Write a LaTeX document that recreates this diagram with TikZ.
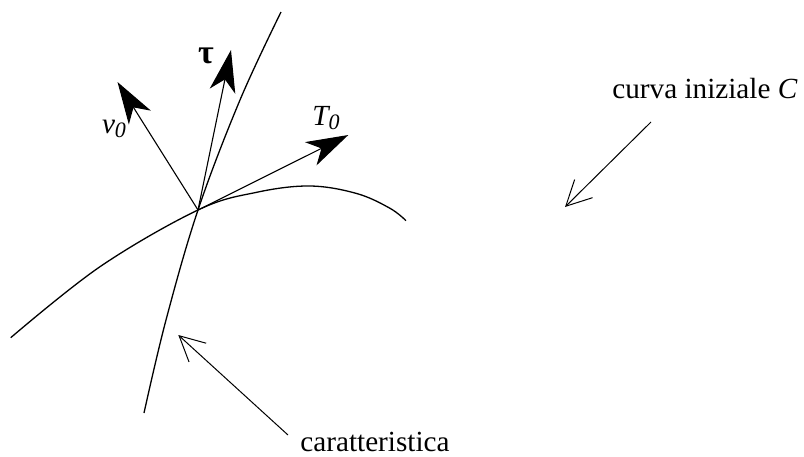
\documentclass[tikz,border=0pt]{standalone}
\usepackage{fontspec}
\setmainfont{Liberation Serif}
\usetikzlibrary{arrows.meta}
\tikzset{
  curveline/.style={line width=0.65pt},
  bigarrow/.style={line width=0.55pt, -{Stealth[length=21pt, width=13pt, inset=6pt]}},
  openarrow/.style={line width=0.5pt, -{Straight Barb[length=12.5pt, width=12.7pt]}},
  lbl/.style={inner sep=0pt, font=\fontsize{14.6pt}{17pt}\selectfont},
}
\begin{document}
\begin{tikzpicture}[x=0.5pt, y=-0.5pt]
\useasboundingbox (0,0) rectangle (804,456);
% curves
\draw[curveline] plot[smooth, tension=0.6] coordinates {(10.7,337.7) (100,266.7) (198,210) (256.7,192.3) (310,186) (356.7,193.5) (390,208.3) (406,220.7)};
\draw[curveline] plot[smooth, tension=0.6] coordinates {(144,413) (166,320) (198,210) (240,100) (281,12)};
% point and tips
\coordinate (P) at (198,210);
\coordinate (nutip) at (117.5,82);
\coordinate (tautip) at (231,50);
\coordinate (Ttip) at (348.3,135);
\draw[bigarrow] (P) -- (nutip);
\draw[bigarrow] (P) -- (tautip);
\draw[bigarrow] (P) -- (Ttip);
% labels
\node[lbl] (taul) at (206,56) {\fontsize{17pt}{19pt}\selectfont\bfseries τ};
\node[lbl] (nul) at (114,129) {\itshape ν\raisebox{-0.35ex}{\fontsize{11pt}{12pt}\selectfont 0}};
\node[lbl] (Tl) at (326,118) {\itshape T\raisebox{-0.35ex}{\fontsize{11pt}{12pt}\selectfont 0}};
\node[lbl, anchor=base west] (curvl) at (612,98.3) {curva iniziale \textit{C}};
\node[lbl, anchor=base west] (caratl) at (300,451.7) {caratteristica};
% pointer arrows
\coordinate (cs) at (651,122);
\coordinate (ce) at (565,207);
\coordinate (ks) at (288,435);
\coordinate (ke) at (178.3,335);
\draw[openarrow] (cs) -- (ce);
\draw[openarrow] (ks) -- (ke);
\end{tikzpicture}
\end{document}
